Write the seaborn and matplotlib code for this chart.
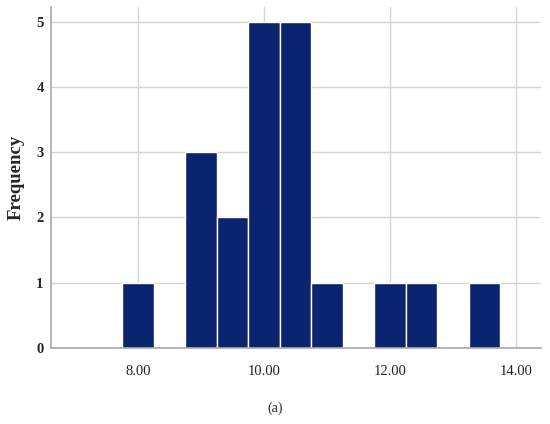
import numpy as np
import pandas as pd
import matplotlib
matplotlib.use("Agg")
import matplotlib.pyplot as plt
import seaborn as sns

bin_centres = [8.0, 9.0, 9.5, 10.0, 10.5, 11.0, 12.0, 12.5, 13.5]
bin_counts = [1, 3, 2, 5, 5, 1, 1, 1, 1]
bin_edges = np.arange(7.75, 14.0, 0.5)
x_ticks = [8, 10, 12, 14]
x_tick_labels = ["8.00", "10.00", "12.00", "14.00"]
y_ticks = [0, 1, 2, 3, 4, 5]

values = np.repeat(bin_centres, bin_counts)
data = pd.DataFrame({"value": values})

sns.set_style("white")
plt.rcParams['font.family'] = ['Liberation Serif', 'DejaVu Serif']

fig = plt.figure(figsize=(5.5, 4.24), dpi=100)
ax = fig.add_axes([0.092, 0.179, 0.891, 0.804])

sns.histplot(data=data, x="value", bins=bin_edges, color="#0a2470",
             edgecolor="white", linewidth=1.0, alpha=1, ax=ax, zorder=3)

ax.set_xlim(6.61, 14.39)
ax.set_ylim(0, 5.22)
ax.set_xticks(x_ticks)
ax.set_xticklabels(x_tick_labels)
ax.set_yticks(y_ticks)
ax.grid(True, color="#d4d4d4", linewidth=1.0, zorder=0)
ax.set_axisbelow(True)

for side in ["top", "right"]:
    ax.spines[side].set_visible(False)
for side in ["left", "bottom"]:
    ax.spines[side].set_color("#a8a8a8")
    ax.spines[side].set_linewidth(1.2)
    ax.spines[side].set_zorder(4)

ax.tick_params(axis="x", length=0, labelsize=10.5, pad=12, colors="#222222")
ax.tick_params(axis="y", length=0, labelsize=10.5, pad=5)
for lab in ax.get_yticklabels():
    lab.set_fontweight("bold")

ax.set_xlabel("")
ax.set_ylabel("Frequency", fontsize=13.5, fontweight="bold", labelpad=8)

fig.text(0.5, 1 - 408 / 424, "(a)", ha="center", va="center", fontsize=10)

fig.savefig("out.png", dpi=100)
